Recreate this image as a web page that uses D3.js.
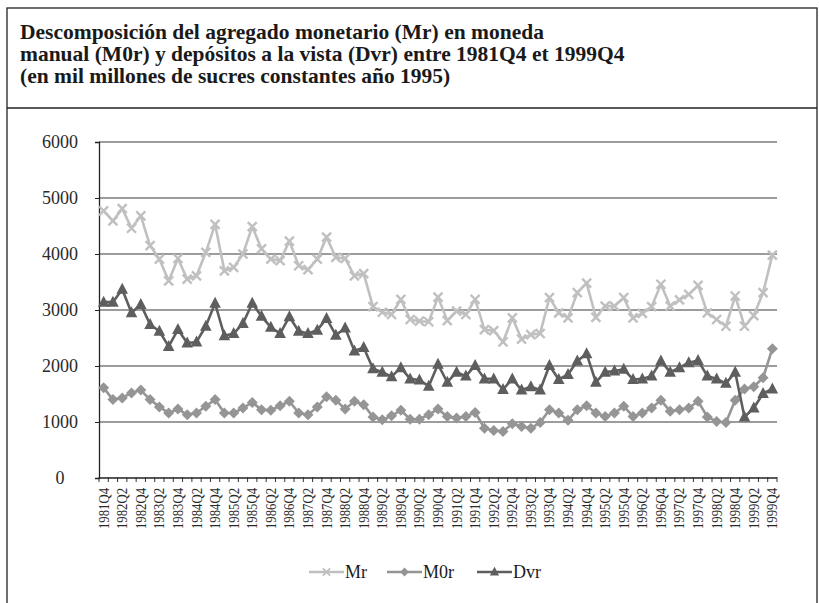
<!DOCTYPE html>
<html>
<head>
<meta charset="utf-8">
<script src="https://cdn.jsdelivr.net/npm/d3@7"></script>
<style>
  body { margin: 0; background: #fff; }
  svg { display: block; font-family: "Liberation Serif", "DejaVu Serif", serif; }
</style>
</head>
<body>
<svg width="819" height="603"></svg>
<script>
var quarters = [
  "1981Q4",
  "1982Q1", "1982Q2", "1982Q3", "1982Q4", "1983Q1", "1983Q2", "1983Q3", "1983Q4",
  "1984Q1", "1984Q2", "1984Q3", "1984Q4", "1985Q1", "1985Q2", "1985Q3", "1985Q4",
  "1986Q1", "1986Q2", "1986Q3", "1986Q4", "1987Q1", "1987Q2", "1987Q3", "1987Q4",
  "1988Q1", "1988Q2", "1988Q3", "1988Q4", "1989Q1", "1989Q2", "1989Q3", "1989Q4",
  "1990Q1", "1990Q2", "1990Q3", "1990Q4", "1991Q1", "1991Q2", "1991Q3", "1991Q4",
  "1992Q1", "1992Q2", "1992Q3", "1992Q4", "1993Q1", "1993Q2", "1993Q3", "1993Q4",
  "1994Q1", "1994Q2", "1994Q3", "1994Q4", "1995Q1", "1995Q2", "1995Q3", "1995Q4",
  "1996Q1", "1996Q2", "1996Q3", "1996Q4", "1997Q1", "1997Q2", "1997Q3", "1997Q4",
  "1998Q1", "1998Q2", "1998Q3", "1998Q4", "1999Q1", "1999Q2", "1999Q3", "1999Q4"
];

var mr = [
  4770, 4590, 4810, 4460, 4680, 4150, 3910, 3520, 3920, 3550,
  3610, 4030, 4530, 3700, 3760, 4000, 4490, 4090, 3910, 3880,
  4230, 3790, 3720, 3910, 4300, 3940, 3920, 3610, 3650, 3060,
  2960, 2920, 3190, 2830, 2800, 2790, 3230, 2810, 2980, 2920,
  3190, 2650, 2630, 2430, 2860, 2480, 2560, 2580, 3220, 2950,
  2860, 3310, 3480, 2870, 3070, 3070, 3220, 2860, 2940, 3060,
  3460, 3070, 3180, 3280, 3440, 2950, 2830, 2710, 3250, 2710,
  2900, 3310, 3980
];

var m0r = [
  1610, 1400, 1430, 1520, 1570, 1400, 1270, 1160, 1230, 1130,
  1160, 1280, 1400, 1160, 1160, 1250, 1350, 1220, 1210, 1290,
  1370, 1160, 1130, 1270, 1450, 1390, 1230, 1370, 1310, 1090,
  1040, 1110, 1210, 1050, 1050, 1130, 1230, 1100, 1070, 1100,
  1170, 890, 850, 830, 970, 920, 890, 990, 1220, 1160,
  1030, 1220, 1290, 1160, 1100, 1160, 1280, 1100, 1160, 1250,
  1390, 1190, 1220, 1250, 1370, 1090, 1010, 990, 1390, 1590,
  1630, 1790, 2310
];

var dvr = [
  3140, 3140, 3370, 2950, 3100, 2740, 2620, 2350, 2650, 2410,
  2430, 2710, 3120, 2540, 2580, 2760, 3120, 2890, 2690, 2580,
  2880, 2620, 2580, 2640, 2850, 2550, 2680, 2270, 2330, 1950,
  1890, 1810, 1970, 1770, 1750, 1640, 2030, 1710, 1890, 1820,
  2010, 1770, 1770, 1580, 1770, 1570, 1630, 1570, 2010, 1760,
  1850, 2090, 2220, 1710, 1890, 1910, 1940, 1760, 1770, 1820,
  2090, 1890, 1970, 2060, 2100, 1820, 1770, 1690, 1890, 1090,
  1250, 1510, 1590
];

var yTicks = [0, 1000, 2000, 3000, 4000, 5000, 6000];

var titleLines = [
  "Descomposición del agregado monetario (Mr) en moneda",
  "manual (M0r) y depósitos a la vista (Dvr) entre 1981Q4 et 1999Q4",
  "(en mil millones de sucres constantes año 1995)"
];

var series = [
  { name: "Mr", values: mr, color: "#c0c0c0", marker: "cross" },
  { name: "M0r", values: m0r, color: "#959595", marker: "diamond" },
  { name: "Dvr", values: dvr, color: "#5e5e5e", marker: "triangle" }
];

var svg = d3.select("svg");

// frame round title and chart
svg.append("rect")
  .attr("x", 7).attr("y", 8)
  .attr("width", 810).attr("height", 610)
  .attr("fill", "none").attr("stroke", "#222").attr("stroke-width", 1.3);
svg.append("line")
  .attr("x1", 7).attr("x2", 817).attr("y1", 108).attr("y2", 108)
  .attr("stroke", "#222").attr("stroke-width", 1.3);

var title = svg.append("g").selectAll("text")
  .data(titleLines)
  .enter().append("text")
  .attr("x", 20)
  .attr("y", function (d, i) { return 39 + i * 22; })
  .attr("font-size", 20)
  .attr("font-weight", "bold")
  .attr("fill", "#1a1a1a")
  .text(function (d) { return d; });
// size the title so the second (longest) line ends near x = 625
var w2 = title.nodes()[1].getComputedTextLength();
title.attr("font-size", 20 * 605 / w2);

var x = d3.scaleBand().domain(quarters).range([99, 777]).padding(0);
var y = d3.scaleLinear().domain([0, 6000]).range([478, 142]);

// grid lines
svg.append("g").selectAll("line")
  .data(yTicks.slice(1))
  .enter().append("line")
  .attr("x1", 99).attr("x2", 777)
  .attr("y1", function (d) { return y(d); })
  .attr("y2", function (d) { return y(d); })
  .attr("stroke", "#3a3a3a").attr("stroke-width", 1.2);

// y axis
var yAxis = svg.append("g")
  .attr("transform", "translate(99,0)")
  .call(d3.axisLeft(y).tickValues(yTicks).tickSize(4).tickFormat(d3.format("d")));
yAxis.select(".domain").attr("stroke", "#222").attr("stroke-width", 1.3);
yAxis.selectAll(".tick line").attr("stroke", "#222");
yAxis.selectAll(".tick text")
  .attr("x", -39)
  .attr("text-anchor", "middle")
  .attr("font-family", "Liberation Serif, serif")
  .attr("font-size", 18)
  .attr("fill", "#2a2a2a");

// x axis with a tick at every category edge
var xAxisG = svg.append("g").attr("transform", "translate(0,478)");
xAxisG.append("line")
  .attr("x1", 99).attr("x2", 777).attr("y1", 0).attr("y2", 0)
  .attr("stroke", "#222").attr("stroke-width", 1.3);
xAxisG.selectAll(".edge")
  .data(quarters.concat(["end"]))
  .enter().append("line")
  .attr("class", "edge")
  .attr("x1", function (d, i) { return i < quarters.length ? x(d) : x.range()[1]; })
  .attr("x2", function (d, i) { return i < quarters.length ? x(d) : x.range()[1]; })
  .attr("y1", -1).attr("y2", 4)
  .attr("stroke", "#333").attr("stroke-width", 1);
xAxisG.selectAll(".lab")
  .data(quarters.filter(function (d, i) { return i % 2 === 0; }))
  .enter().append("text")
  .attr("class", "lab")
  .attr("transform", function (d) {
    return "translate(" + (x(d) + x.bandwidth() / 2 + 5) + ",10) rotate(-90)";
  })
  .attr("text-anchor", "end")
  .attr("font-size", 14)
  .attr("fill", "#2a2a2a")
  .attr("textLength", 41)
  .attr("lengthAdjust", "spacingAndGlyphs")
  .text(function (d) { return d; });

var cx = function (d, i) { return x(quarters[i]) + x.bandwidth() / 2; };

var drawMarker = function (sel, kind, color) {
  if (kind === "cross") {
    sel.append("path")
      .attr("d", "M-4.5,-4.5L4.5,4.5M-4.5,4.5L4.5,-4.5")
      .attr("stroke", color).attr("stroke-width", 2.4).attr("fill", "none");
  } else if (kind === "diamond") {
    sel.append("path")
      .attr("d", "M0,-5.5L5.5,0L0,5.5L-5.5,0Z")
      .attr("fill", color);
  } else {
    sel.append("path")
      .attr("d", "M0,-6.5L5.8,4.5L-5.8,4.5Z")
      .attr("fill", color);
  }
};

var line = d3.line()
  .x(cx)
  .y(function (d) { return y(d); });

series.forEach(function (s) {
  var g = svg.append("g");
  g.append("path")
    .datum(s.values)
    .attr("d", line)
    .attr("fill", "none")
    .attr("stroke", s.color)
    .attr("stroke-width", 2.6)
    .attr("stroke-linejoin", "round");
  var marks = g.selectAll("g")
    .data(s.values)
    .enter().append("g")
    .attr("transform", function (d, i) { return "translate(" + cx(d, i) + "," + y(d) + ")"; });
  drawMarker(marks, s.marker, s.color);
});

// legend
var legendX = [309, 387, 477];
var legend = svg.append("g").selectAll("g")
  .data(series)
  .enter().append("g")
  .attr("transform", function (d, i) { return "translate(" + legendX[i] + ",572)"; });
legend.append("line")
  .attr("x1", 0).attr("x2", 35).attr("y1", 0).attr("y2", 0)
  .attr("stroke", function (d) { return d.color; })
  .attr("stroke-width", 2.6);
legend.each(function (d) {
  var m = d3.select(this).append("g").attr("transform", "translate(17.5,0) scale(0.8)");
  drawMarker(m, d.marker, d.color);
});
legend.append("text")
  .attr("x", 36).attr("y", 6)
  .attr("font-size", 18)
  .attr("fill", "#1a1a1a")
  .text(function (d) { return d.name; });
</script>
</body>
</html>
